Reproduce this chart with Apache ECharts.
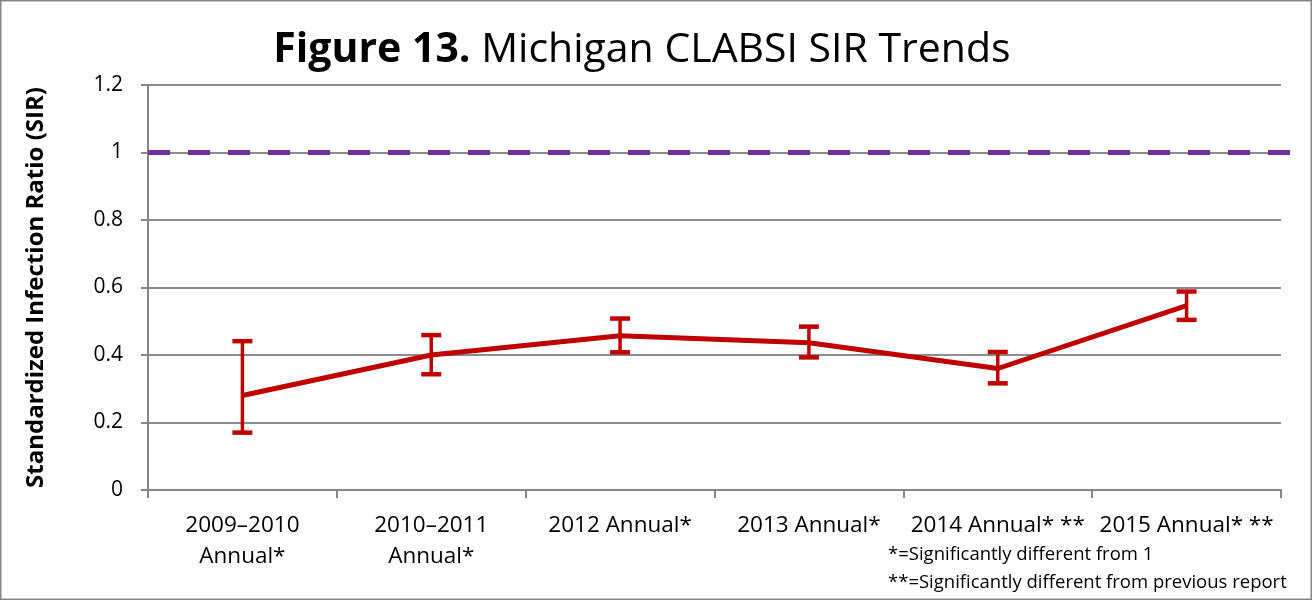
<!DOCTYPE html>
<html>
<head>
<meta charset="utf-8">
<script src="https://cdn.jsdelivr.net/npm/echarts@6/dist/echarts.min.js"></script>
<style>
  html, body { margin: 0; padding: 0; background: #fff; }
  #main { width: 1312px; height: 600px; }
</style>
</head>
<body>
<div id="main"></div>
<script>
// Michigan CLABSI SIR trends
var categories = ['2009\u20132010\nAnnual*', '2010\u20132011\nAnnual*', '2012 Annual*', '2013 Annual*', '2014 Annual* **', '2015 Annual* **'];
var sirValues = [0.28, 0.40, 0.457, 0.436, 0.36, 0.546];
var ciLower = [0.17, 0.343, 0.408, 0.393, 0.316, 0.504];
var ciUpper = [0.441, 0.459, 0.508, 0.484, 0.409, 0.588];
var refValue = 1;
var yTicks = { min: 0, max: 1.2, interval: 0.2 };

var font = '"Open Sans", "Noto Sans", sans-serif';
var myChart = echarts.init(document.getElementById('main'));

var errData = categories.map(function (c, i) { return [i, ciLower[i], ciUpper[i]]; });

var option = {
    backgroundColor: '#fff',
    animation: false,
    title: {
        text: '{b|Figure 13.}{n| Michigan CLABSI SIR Trends}',
        left: 637,
        textAlign: 'center',
        top: 25,
        textStyle: {
            fontWeight: 'normal',
            rich: {
                b: { fontFamily: font, fontSize: 41, fontWeight: 'bold', color: '#000' },
                n: { fontFamily: font, fontSize: 41, fontWeight: 'normal', color: '#000' }
            }
        }
    },
    grid: [
        { left: 148, right: 31, top: 85, bottom: 110 },
        { left: 148, right: 16, top: 85, bottom: 110 }
    ],
    xAxis: [
        {
            type: 'category',
            gridIndex: 0,
            data: categories,
            axisLine: { lineStyle: { color: '#868686', width: 2 } },
            axisTick: { show: true, length: 8, lineStyle: { color: '#868686', width: 2 } },
            axisLabel: { color: '#000', fontFamily: font, fontSize: 22.5, margin: 20, lineHeight: 31, interval: 0 }
        },
        { type: 'value', gridIndex: 1, min: 0, max: 1, show: false }
    ],
    yAxis: [
        {
            type: 'value',
            gridIndex: 0,
            min: yTicks.min,
            max: yTicks.max,
            interval: yTicks.interval,
            name: 'Standardized Infection Ratio (SIR)',
            nameLocation: 'middle',
            nameGap: 100,
            nameTextStyle: { color: '#000', fontFamily: font, fontSize: 24, fontWeight: 'bold' },
            axisLine: { show: true, lineStyle: { color: '#868686', width: 2 } },
            axisTick: { show: true, length: 7, lineStyle: { color: '#868686', width: 2 } },
            axisLabel: { color: '#000', fontFamily: font, fontSize: 21, margin: 25 },
            splitLine: { lineStyle: { color: '#8c8c8c', width: 2 } }
        },
        { type: 'value', gridIndex: 1, min: yTicks.min, max: yTicks.max, show: false }
    ],
    series: [
        {
            name: 'Reference',
            type: 'line',
            xAxisIndex: 1,
            yAxisIndex: 1,
            data: [[0, refValue], [1, refValue]],
            symbol: 'none',
            lineStyle: { color: '#7030a0', width: 5, type: [22, 18] },
            z: 3
        },
        {
            name: 'SIR',
            type: 'line',
            data: sirValues,
            symbol: 'circle',
            symbolSize: 3,
            itemStyle: { color: '#9bbb59' },
            lineStyle: { color: '#c00000', width: 5 },
            z: 4
        },
        {
            name: 'CI',
            type: 'custom',
            data: errData,
            z: 5,
            renderItem: function (params, api) {
                var lo = api.coord([api.value(0), api.value(1)]);
                var hi = api.coord([api.value(0), api.value(2)]);
                var hw = 10;
                var st = { stroke: '#c00000', lineWidth: 3.5 };
                var cap = { stroke: '#c00000', lineWidth: 4.5 };
                return {
                    type: 'group',
                    children: [
                        { type: 'line', shape: { x1: lo[0], y1: lo[1], x2: hi[0], y2: hi[1] }, style: st },
                        { type: 'line', shape: { x1: lo[0] - hw, y1: lo[1], x2: lo[0] + hw, y2: lo[1] }, style: cap },
                        { type: 'line', shape: { x1: hi[0] - hw, y1: hi[1], x2: hi[0] + hw, y2: hi[1] }, style: cap }
                    ]
                };
            }
        }
    ],
    graphic: [
        {
            type: 'rect',
            shape: { x: 0.5, y: 0.5, width: 1311, height: 599 },
            style: { fill: 'none', stroke: '#868686', lineWidth: 2 },
            silent: true
        },
        {
            type: 'text',
            left: 888,
            top: 545,
            style: { text: '*=Significantly different from 1', fontFamily: font, fontSize: 18.5, fill: '#000' }
        },
        {
            type: 'text',
            left: 888,
            top: 573,
            style: { text: '**=Significantly different from previous report', fontFamily: font, fontSize: 18.5, fill: '#000' }
        }
    ]
};

myChart.setOption(option);
</script>
</body>
</html>
